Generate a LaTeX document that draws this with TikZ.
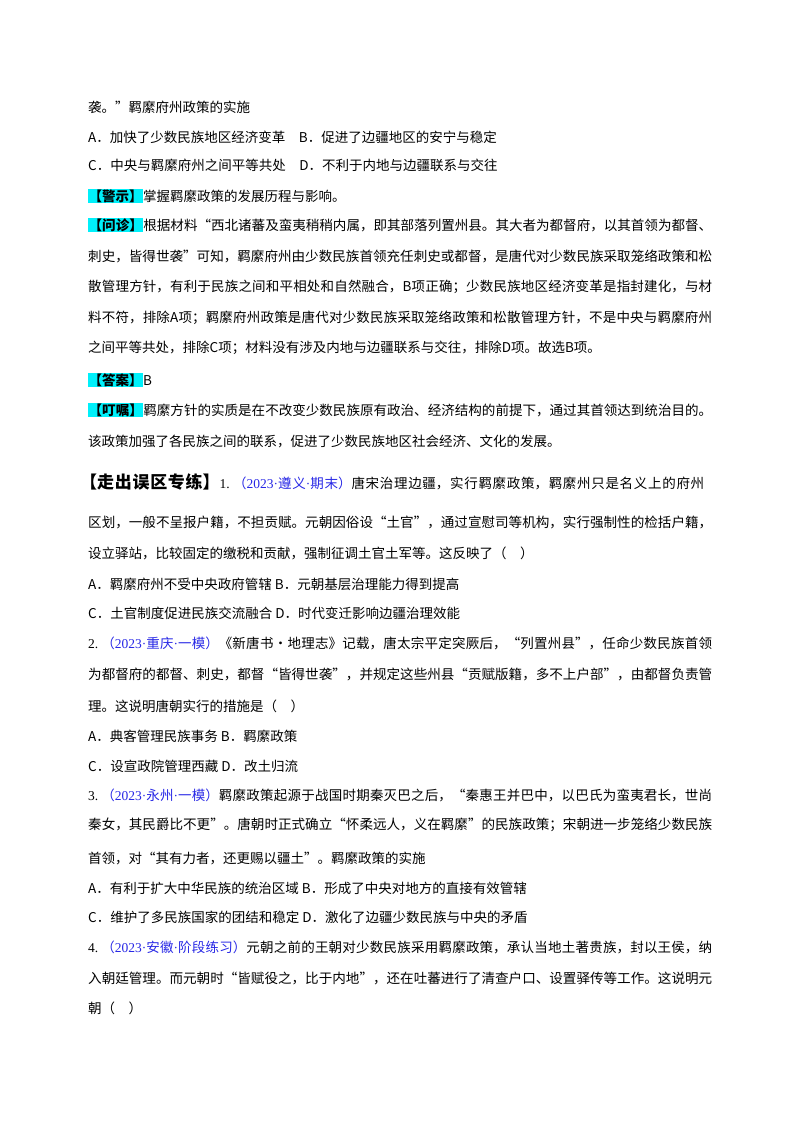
\documentclass[tikz,border=0pt]{standalone}
\usepackage{fontspec}
\usepackage{graphicx}
\setmainfont{Noto Sans CJK SC}
\newfontfamily\lat{Liberation Serif}
\usepackage{xcolor}
\definecolor{srcblue}{RGB}{40,40,230}
\definecolor{hl}{RGB}{0,240,250}
\newsavebox\flbox
\newcommand{\fl}[1]{\sbox\flbox{#1}\ifdim\wd\flbox>620pt\resizebox{624pt}{!}{\usebox\flbox}\else\parbox{624pt}{\XeTeXlinebreaklocale "zh"\XeTeXlinebreakskip=0pt plus 3pt\parfillskip=0pt\relax #1}\fi}
\newcommand{\tg}[1]{{\fboxsep=0.5pt\colorbox{hl}{\bfseries #1}}}
\newcommand{\src}[1]{{\color{srcblue}#1}}
\begin{document}
\begin{tikzpicture}[x=1pt,y=-1pt,every node/.style={anchor=west,inner sep=0pt,font=\fontsize{13.5pt}{16pt}\selectfont}]
\useasboundingbox (0,0) rectangle (800,1132);
\fill[white] (0,0) rectangle (800,1132);
\node (l1) at (88,107) {袭。”羁縻府州政策的实施};
\node (l2) at (88,137) {A．加快了少数民族地区经济变革\quad B．促进了边疆地区的安宁与稳定};
\node (l3) at (88,165) {C．中央与羁縻府州之间平等共处\quad D．不利于内地与边疆联系与交往};
\node (l4) at (88,196) {\tg{【警示】}掌握羁縻政策的发展历程与影响。};
\node (l5) at (88,225) {\fl{\tg{【问诊】}根据材料“西北诸蕃及蛮夷稍稍内属，即其部落列置州县。其大者为都督府，以其首领为都督、}};
\node (l6) at (88,256) {\fl{刺史，皆得世袭”可知，羁縻府州由少数民族首领充任刺史或都督，是唐代对少数民族采取笼络政策和松}};
\node (l7) at (88,287) {\fl{散管理方针，有利于民族之间和平相处和自然融合，B项正确；少数民族地区经济变革是指封建化，与材}};
\node (l8) at (88,318) {\fl{料不符，排除A项；羁縻府州政策是唐代对少数民族采取笼络政策和松散管理方针，不是中央与羁縻府州}};
\node (l9) at (88,348) {之间平等共处，排除C项；材料没有涉及内地与边疆联系与交往，排除D项。故选B项。};
\node (l10) at (88,380) {\tg{【答案】}B};
\node (l11) at (88,410) {\fl{\tg{【叮嘱】}羁縻方针的实质是在不改变少数民族原有政治、经济结构的前提下，通过其首领达到统治目的。}};
\node (l12) at (88,441) {该政策加强了各民族之间的联系，促进了少数民族地区社会经济、文化的发展。};
\node (l13) at (80,482) {\fl{{\fontsize{17pt}{20pt}\selectfont\bfseries【走出误区专练】}{\lat 1.}\ \src{（{\lat 2023·}遵义{\lat ·}期末）}唐宋治理边疆，实行羁縻政策，羁縻州只是名义上的府州}};
\node (l14) at (88,522) {\fl{区划，一般不呈报户籍，不担贡赋。元朝因俗设“土官”，通过宣慰司等机构，实行强制性的检括户籍，}};
\node (l15) at (88,553) {设立驿站，比较固定的缴税和贡献，强制征调土官土军等。这反映了（\quad ）};
\node (l16) at (88,584) {A．羁縻府州不受中央政府管辖 B．元朝基层治理能力得到提高};
\node (l17) at (88,613) {C．土官制度促进民族交流融合 D．时代变迁影响边疆治理效能};
\node (l18) at (88,643) {\fl{{\lat 2.}\ \src{（{\lat 2023·}重庆{\lat ·}一模）}《新唐书•地理志》记载，唐太宗平定突厥后，“列置州县”，任命少数民族首领}};
\node (l19) at (88,674) {\fl{为都督府的都督、刺史，都督“皆得世袭”，并规定这些州县“贡赋版籍，多不上户部”，由都督负责管}};
\node (l20) at (88,706) {理。这说明唐朝实行的措施是（\quad ）};
\node (l21) at (88,736) {A．典客管理民族事务 B．羁縻政策};
\node (l22) at (88,766) {C．设宣政院管理西藏 D．改土归流};
\node (l23) at (88,795) {\fl{{\lat 3.}\ \src{（{\lat 2023·}永州{\lat ·}一模）}羁縻政策起源于战国时期秦灭巴之后，“秦惠王并巴中，以巴氏为蛮夷君长，世尚}};
\node (l24) at (88,825) {\fl{秦女，其民爵比不更”。唐朝时正式确立“怀柔远人，义在羁縻”的民族政策；宋朝进一步笼络少数民族}};
\node (l25) at (88,858) {首领，对“其有力者，还更赐以疆土”。羁縻政策的实施};
\node (l26) at (88,888) {A．有利于扩大中华民族的统治区域 B．形成了中央对地方的直接有效管辖};
\node (l27) at (88,917) {C．维护了多民族国家的团结和稳定 D．激化了边疆少数民族与中央的矛盾};
\node (l28) at (88,947) {\fl{{\lat 4.}\ \src{（{\lat 2023·}安徽{\lat ·}阶段练习）}元朝之前的王朝对少数民族采用羁縻政策，承认当地土著贵族，封以王侯，纳}};
\node (l29) at (88,978) {\fl{入朝廷管理。而元朝时“皆赋役之，比于内地”，还在吐蕃进行了清查户口、设置驿传等工作。这说明元}};
\node (l30) at (88,1008) {朝（\quad ）};
\end{tikzpicture}
\end{document}
